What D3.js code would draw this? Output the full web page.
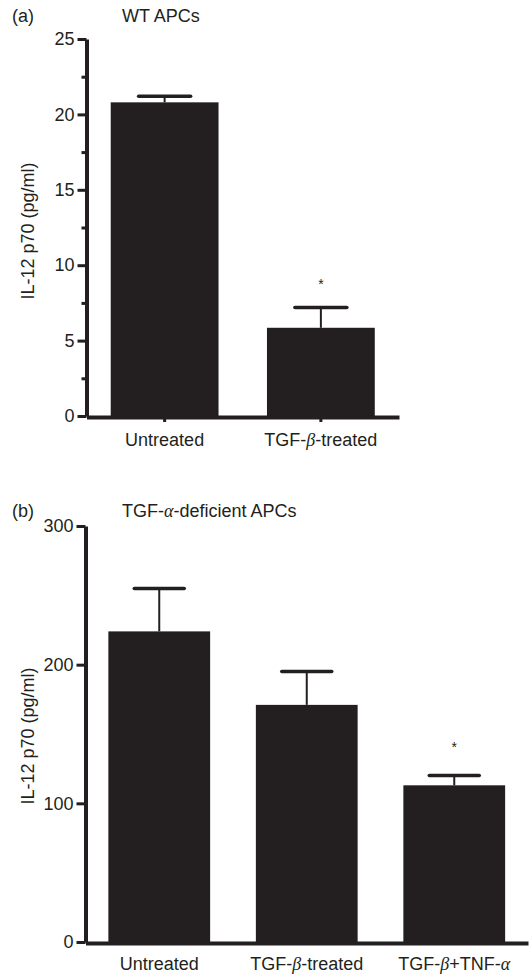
<!DOCTYPE html>
<html>
<head>
<meta charset="utf-8">
<script src="https://cdn.jsdelivr.net/npm/d3@7"></script>
<style>
  body { margin: 0; background: #fff; }
  text { font-family: "Liberation Sans", Arial, sans-serif; fill: #231f20; }
</style>
</head>
<body>
<div id="chart"></div>
<script>
// Panel (a) data: WT APCs
const catsA = ["Untreated", "TGF-β-treated"];
const meansA = [20.8, 5.85];
const semA = [0.4, 1.35];
const sigA = [false, true];
const ticksA = [0, 5, 10, 15, 20, 25];
const minorTicksA = [2.5, 7.5, 12.5, 17.5, 22.5];

// Panel (b) data: TGF-alpha-deficient APCs
const catsB = ["Untreated", "TGF-β-treated", "TGF-β+TNF-α"];
const meansB = [224, 171, 113];
const semB = [31, 24, 7];
const sigB = [false, false, true];
const ticksB = [0, 100, 200, 300];

const ink = "#231f20";
const fs = 18;

const svg = d3.select("#chart").append("svg")
  .attr("width", 530)
  .attr("height", 975);

// write a label, putting greek letters in italic
function greekText(sel, str) {
  str.split(/([αβ])/).forEach(part => {
    if (!part) return;
    const t = sel.append("tspan").text(part);
    if (part === "α" || part === "β") {
      t.attr("font-style", "italic").attr("font-family", "'Liberation Serif', serif");
    }
  });
}

function drawPanel(opt) {
  const g = svg.append("g");

  const x = d3.scaleBand()
    .domain(opt.cats)
    .range(opt.xRange)
    .paddingInner(0.31)
    .paddingOuter(0.155);

  const y = d3.scaleLinear()
    .domain(opt.yDomain)
    .range(opt.yRange);

  const x0 = opt.xRange[0];
  const yBase = opt.yRange[0];
  const rows = opt.cats.map((c, i) => ({ cat: c, mean: opt.means[i], sem: opt.sem[i], sig: opt.sig[i] }));
  const cx = d => x(d.cat) + x.bandwidth() / 2;

  // panel letter and title
  g.append("text").attr("x", 12).attr("y", opt.titleY)
    .attr("font-size", fs).text(opt.letter);
  greekText(g.append("text").attr("x", 122).attr("y", opt.titleY)
    .attr("font-size", fs), opt.title);

  // bars
  g.selectAll("rect.bar").data(rows).join("rect")
    .attr("class", "bar")
    .attr("x", d => x(d.cat))
    .attr("width", x.bandwidth())
    .attr("y", d => y(d.mean))
    .attr("height", d => yBase - y(d.mean))
    .attr("fill", ink);

  // error bars
  g.selectAll("line.stem").data(rows).join("line")
    .attr("class", "stem")
    .attr("x1", cx).attr("x2", cx)
    .attr("y1", d => y(d.mean))
    .attr("y2", d => y(d.mean + d.sem))
    .attr("stroke", ink).attr("stroke-width", 2);
  g.selectAll("line.cap").data(rows).join("line")
    .attr("class", "cap")
    .attr("x1", d => cx(d) - opt.capHalf)
    .attr("x2", d => cx(d) + opt.capHalf)
    .attr("y1", d => y(d.mean + d.sem))
    .attr("y2", d => y(d.mean + d.sem))
    .attr("stroke", ink).attr("stroke-width", 3.5)
    .attr("stroke-linecap", "round");

  // significance stars
  g.selectAll("text.star").data(rows.filter(d => d.sig)).join("text")
    .attr("class", "star")
    .attr("x", cx)
    .attr("y", d => y(d.mean + d.sem) - opt.starGap)
    .attr("text-anchor", "middle")
    .attr("font-size", 14)
    .text("*");

  // y axis
  const yAxis = g.append("g")
    .attr("transform", `translate(${x0},0)`)
    .call(d3.axisLeft(y).tickValues(opt.ticks).tickSize(9).tickSizeOuter(0).tickPadding(3));
  yAxis.select(".domain").attr("stroke", ink).attr("stroke-width", 4);
  yAxis.selectAll(".tick line").attr("stroke", ink).attr("stroke-width", 3);
  yAxis.selectAll(".tick text").attr("font-size", fs).attr("fill", ink);

  if (opt.minor) {
    const m = g.append("g")
      .attr("transform", `translate(${x0},0)`)
      .call(d3.axisLeft(y).tickValues(opt.minor).tickSize(5).tickFormat(""));
    m.select(".domain").remove();
    m.selectAll(".tick line").attr("stroke", ink).attr("stroke-width", 3);
  }

  // x axis
  const xAxis = g.append("g")
    .attr("transform", `translate(0,${yBase + 1})`)
    .call(d3.axisBottom(x).tickSize(opt.xTicks ? 5 : 0).tickSizeOuter(0).tickFormat(""));
  xAxis.select(".domain").attr("stroke", ink).attr("stroke-width", 4);
  xAxis.selectAll(".tick line").attr("stroke", ink).attr("stroke-width", 3);

  // category labels
  g.selectAll("text.lab").data(opt.cats).join("text")
    .attr("class", "lab")
    .attr("x", d => x(d) + x.bandwidth() / 2)
    .attr("y", opt.labelY)
    .attr("text-anchor", "middle")
    .attr("font-size", fs)
    .each(function(d) { greekText(d3.select(this), d); });

  // y axis title
  g.append("text")
    .attr("transform", `translate(34,${opt.yTitleCy}) rotate(-90)`)
    .attr("text-anchor", "middle")
    .attr("font-size", fs)
    .text("IL-12 p70 (pg/ml)");
}

drawPanel({
  letter: "(a)", title: "WT APCs", titleY: 22,
  cats: catsA, means: meansA, sem: semA, sig: sigA,
  ticks: ticksA, minor: minorTicksA, xTicks: true,
  xRange: [86.5, 399], yDomain: [0, 25], yRange: [416, 39],
  capHalf: 26, starGap: 18, labelY: 446, yTitleCy: 231
});

drawPanel({
  letter: "(b)", title: "TGF-α-deficient APCs", titleY: 517,
  cats: catsB, means: meansB, sem: semB, sig: sigB,
  ticks: ticksB, minor: null, xTicks: false,
  xRange: [85.5, 528], yDomain: [0, 300], yRange: [942, 526],
  capHalf: 25, starGap: 24, labelY: 970, yTitleCy: 736
});
</script>
</body>
</html>
